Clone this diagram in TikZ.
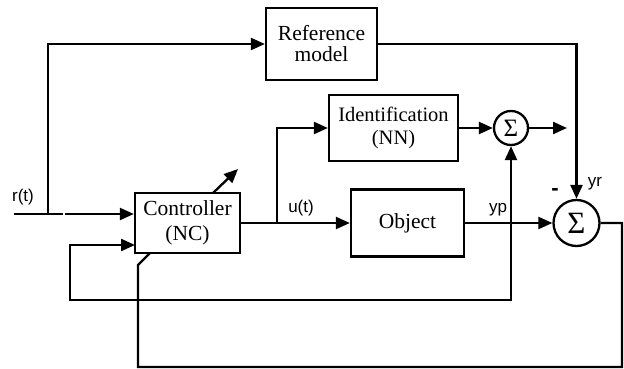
\documentclass[tikz,border=0pt]{standalone}
\usepackage{fontspec}
\setmainfont{Liberation Serif}
\setsansfont{Liberation Sans}
\usetikzlibrary{arrows.meta}
\tikzset{
  blk/.style={draw,line width=2.3pt,align=center,inner sep=0pt,font=\fontsize{21.5}{23}\selectfont},
  sumc/.style={draw,circle,line width=2.3pt,inner sep=0pt},
  arr/.style={line width=2.3pt,-{Triangle[length=14pt,width=12pt]}},
  ln/.style={line width=2.3pt},
  lbl/.style={font=\sffamily\fontsize{17}{18}\selectfont,inner sep=0pt}
}
\begin{document}
\begin{tikzpicture}[x=1pt,y=-1pt]
\path[use as bounding box] (0,0) rectangle (624,369);
% blocks
\node[blk,minimum width=111pt,minimum height=72pt] (ref) at (321.5,44) {Reference\\[-2pt]model};
\node[blk,minimum width=129pt,minimum height=66pt,font=\fontsize{20.5}{22}\selectfont] (ident) at (393.5,128) {Identification\\[1pt](NN)};
\node[blk,minimum width=105pt,minimum height=60pt] (ctrl) at (187.5,223) {Controller\\[2pt](NC)};
\node[blk,minimum width=113pt,minimum height=67pt] (obj) at (407.5,223) {Object};
\node[sumc,minimum size=34pt,font=\fontsize{25}{25}\selectfont] (s1) at (511,128) {Σ};
\node[sumc,minimum size=46pt,font=\fontsize{31}{31}\selectfont] (s2) at (576.5,223) {Σ};
% coordinates
\coordinate (inl) at (14,214);
\coordinate (inm) at (63,214);
\coordinate (inr) at (65,214);
\coordinate (tap) at (48,214);
\coordinate (ubr) at (277,223);
\coordinate (ybr) at (511,223);
\coordinate (out1) at (567,128);
\coordinate (fbl) at (70,300);
\coordinate (c2) at (135,245);
\coordinate (rr) at (622,367);
\coordinate (lb) at (138,265);
\coordinate (c3) at (150,253);
\coordinate (a1) at (213,193);
\coordinate (a2) at (238,169);
% connectors
\draw[ln] (inl) -- (inm);
\draw[arr] (inr) -- (inr -| ctrl.west);
\draw[arr] (tap) |- (ref.west);
\draw[arr] (ref.east) -| (s2.north);
\draw[arr] (ctrl.east) -- (obj.west);
\draw[arr] (ubr) |- (ident.west);
\draw[arr] (ident.east) -- (s1.west);
\draw[arr] (s1.east) -- (out1);
\draw[arr] (obj.east) -- (s2.west);
\draw[arr] (ybr) -- (s1.south);
\draw[arr] (ybr) |- (fbl) |- (c2);
\draw[ln] (s2.east) -| (rr) -| (lb) -- (c3);
\draw[arr] (a1) -- (a2);
% labels
\node[lbl] (lr) at (23,197) {r(t)};
\node[lbl] (lu) at (301,208) {u(t)};
\node[lbl] (lyp) at (498,210) {yp};
\node[lbl] (lyr) at (595,184) {yr};
\node[font=\sffamily\bfseries\fontsize{22}{22}\selectfont,inner sep=0pt] (lm) at (555,192) {-};
\end{tikzpicture}
\end{document}
